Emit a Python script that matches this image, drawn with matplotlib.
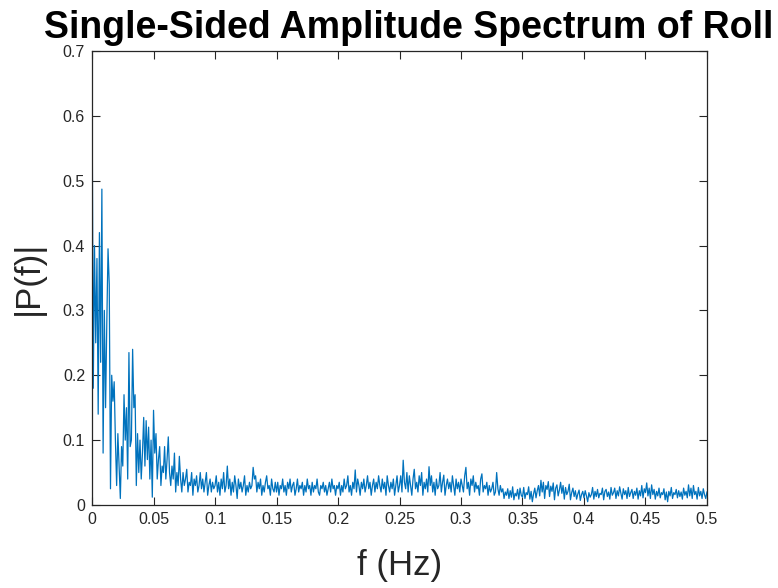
import matplotlib
matplotlib.use("Agg")
import matplotlib.pyplot as plt
import numpy as np

plt.rcParams['font.family'] = ['Liberation Sans', 'DejaVu Sans']

# |P(f)|, one value every 0.001 Hz from 0 to 0.5
p_0 = [0.66, 0.18, 0.40, 0.25, 0.38, 0.14, 0.42, 0.22, 0.487, 0.08,
       0.30, 0.15, 0.28, 0.395, 0.34, 0.025, 0.20, 0.16, 0.19, 0.10,
       0.03, 0.11, 0.06, 0.01, 0.09, 0.06, 0.17, 0.10, 0.15, 0.04,
       0.235, 0.09, 0.10, 0.24, 0.15, 0.17, 0.03, 0.11, 0.05, 0.10,
       0.04, 0.08, 0.135, 0.06, 0.13, 0.07, 0.12, 0.04, 0.10, 0.012]
p_1 = [0.146, 0.08, 0.11, 0.04, 0.07, 0.09, 0.03, 0.06, 0.05, 0.09,
       0.04, 0.07, 0.105, 0.05, 0.03, 0.06, 0.04, 0.08, 0.02, 0.05,
       0.03, 0.075, 0.04, 0.02, 0.05, 0.03, 0.04, 0.055, 0.02, 0.035,
       0.03, 0.05, 0.015, 0.04, 0.03, 0.045, 0.02, 0.03, 0.05, 0.025,
       0.04, 0.02, 0.035, 0.05, 0.015, 0.03, 0.04, 0.02, 0.035, 0.025]
p_2 = [0.03, 0.045, 0.02, 0.035, 0.015, 0.04, 0.025, 0.05, 0.02, 0.03,
       0.06, 0.025, 0.04, 0.015, 0.035, 0.02, 0.045, 0.03, 0.01, 0.04,
       0.025, 0.035, 0.02, 0.03, 0.045, 0.015, 0.03, 0.02, 0.035, 0.025,
       0.03, 0.058, 0.04, 0.045, 0.02, 0.035, 0.025, 0.04, 0.015, 0.03,
       0.02, 0.035, 0.045, 0.025, 0.03, 0.015, 0.04, 0.025, 0.02, 0.035]
p_3 = [0.02, 0.035, 0.015, 0.03, 0.025, 0.04, 0.02, 0.03, 0.015, 0.035,
       0.025, 0.04, 0.02, 0.03, 0.035, 0.015, 0.025, 0.04, 0.02, 0.03,
       0.025, 0.035, 0.015, 0.03, 0.02, 0.04, 0.025, 0.03, 0.015, 0.035,
       0.02, 0.03, 0.025, 0.04, 0.02, 0.015, 0.03, 0.025, 0.035, 0.02,
       0.03, 0.015, 0.025, 0.035, 0.02, 0.04, 0.025, 0.03, 0.015, 0.03]
p_4 = [0.025, 0.035, 0.015, 0.03, 0.02, 0.04, 0.025, 0.03, 0.045, 0.02,
       0.03, 0.015, 0.035, 0.025, 0.054, 0.02, 0.04, 0.03, 0.015, 0.035,
       0.025, 0.04, 0.02, 0.03, 0.045, 0.025, 0.035, 0.015, 0.03, 0.04,
       0.02, 0.035, 0.025, 0.045, 0.03, 0.02, 0.04, 0.025, 0.035, 0.015,
       0.045, 0.03, 0.02, 0.035, 0.025, 0.04, 0.015, 0.03, 0.045, 0.02]
p_5 = [0.03, 0.045, 0.02, 0.069, 0.035, 0.025, 0.05, 0.02, 0.045, 0.03,
       0.015, 0.04, 0.055, 0.025, 0.035, 0.02, 0.045, 0.03, 0.05, 0.015,
       0.035, 0.025, 0.04, 0.02, 0.059, 0.03, 0.045, 0.02, 0.035, 0.015,
       0.04, 0.025, 0.03, 0.05, 0.02, 0.035, 0.046, 0.015, 0.03, 0.04,
       0.025, 0.035, 0.02, 0.045, 0.03, 0.015, 0.04, 0.025, 0.035, 0.02]
p_6 = [0.04, 0.03, 0.02, 0.045, 0.058, 0.025, 0.035, 0.015, 0.04, 0.03,
       0.045, 0.02, 0.035, 0.025, 0.03, 0.015, 0.04, 0.048, 0.02, 0.03,
       0.025, 0.035, 0.015, 0.03, 0.02, 0.025, 0.035, 0.015, 0.02, 0.05,
       0.025, 0.015, 0.03, 0.02, 0.025, 0.01, 0.02, 0.015, 0.025, 0.01,
       0.022, 0.012, 0.028, 0.008, 0.018, 0.014, 0.024, 0.009, 0.026, 0.015]
p_7 = [0.012, 0.027, 0.01, 0.019, 0.016, 0.028, 0.009, 0.021, 0.005, 0.017,
       0.026, 0.011, 0.022, 0.03, 0.014, 0.038, 0.02, 0.035, 0.01, 0.03,
       0.024, 0.036, 0.013, 0.029, 0.021, 0.034, 0.008, 0.026, 0.031, 0.014,
       0.023, 0.035, 0.018, 0.03, 0.009, 0.027, 0.016, 0.021, 0.032, 0.008,
       0.019, 0.026, 0.013, 0.022, 0.009, 0.017, 0.023, 0.007, 0.016, 0.021]
p_8 = [0.011, 0.022, 0.014, 0.005, 0.019, 0.012, 0.016, 0.027, 0.009, 0.021,
       0.013, 0.024, 0.011, 0.018, 0.016, 0.026, 0.008, 0.021, 0.024, 0.013,
       0.02, 0.009, 0.027, 0.015, 0.019, 0.026, 0.01, 0.022, 0.014, 0.028,
       0.018, 0.009, 0.025, 0.016, 0.022, 0.01, 0.027, 0.013, 0.019, 0.024,
       0.01, 0.021, 0.015, 0.026, 0.009, 0.022, 0.014, 0.03, 0.011, 0.025]
p_9 = [0.019, 0.034, 0.014, 0.026, 0.01, 0.031, 0.016, 0.024, 0.009, 0.021,
       0.014, 0.026, 0.011, 0.019, 0.016, 0.025, 0.008, 0.02, 0.005, 0.021,
       0.014, 0.027, 0.01, 0.019, 0.016, 0.024, 0.011, 0.022, 0.013, 0.02,
       0.009, 0.026, 0.015, 0.021, 0.011, 0.031, 0.014, 0.026, 0.01, 0.03,
       0.016, 0.021, 0.009, 0.027, 0.014, 0.021, 0.01, 0.025, 0.016, 0.01,
       0.02]

P1 = np.array(p_0 + p_1 + p_2 + p_3 + p_4 + p_5 + p_6 + p_7 + p_8 + p_9)
f = np.arange(len(P1)) * 0.001

x_ticks = [0, 0.05, 0.1, 0.15, 0.2, 0.25, 0.3, 0.35, 0.4, 0.45, 0.5]
y_ticks = [0, 0.1, 0.2, 0.3, 0.4, 0.5, 0.6, 0.7]

grey = '#262626'

fig = plt.figure(figsize=(7.78, 5.88), dpi=100)
ax = fig.add_axes([0.1183, 0.1412, 0.7904, 0.7721])
ax.plot(f, P1, color='#0072BD', linewidth=0.9)

ax.set_xlim(0, 0.5)
ax.set_ylim(0, 0.7)
ax.set_xticks(x_ticks)
ax.set_yticks(y_ticks)
ax.set_xticklabels(['%g' % t for t in x_ticks])
ax.set_yticklabels(['%g' % t for t in y_ticks])
ax.tick_params(direction='in', length=6, width=0.8, colors=grey,
               labelsize=11.5, top=True, right=True, pad=5)
for s in ax.spines.values():
    s.set_color(grey)
    s.set_linewidth(0.9)

ax.set_title('Single-Sided Amplitude Spectrum of Roll', fontsize=27,
             fontweight='bold', pad=9, x=0.515)
ax.set_xlabel('f (Hz)', fontsize=25, color=grey, labelpad=16)
ax.set_ylabel('|P(f)|', fontsize=25, color=grey, labelpad=13)

fig.savefig('out.png', dpi=100)
